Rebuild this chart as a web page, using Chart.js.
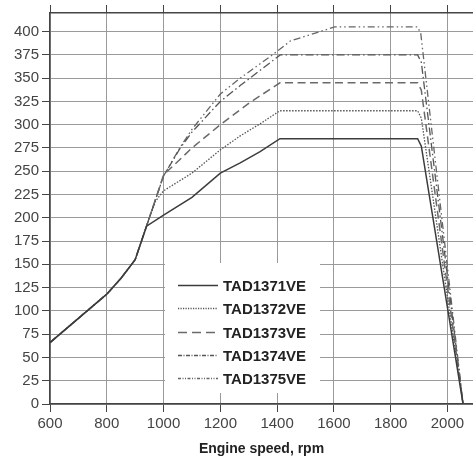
<!DOCTYPE html>
<html>
<head>
<meta charset="utf-8">
<script src="https://cdn.jsdelivr.net/npm/chart.js@4.4.0/dist/chart.umd.min.js"></script>
<style>
  html, body { margin: 0; padding: 0; background: #fff; }
  #wrap { width: 473px; height: 462px; }
</style>
</head>
<body>
<div id="wrap"><canvas id="torqueChart" width="473" height="462"></canvas></div>
<script>
// Curve data (engine speed in rpm, value per model)
const models = ["TAD1371VE", "TAD1372VE", "TAD1373VE", "TAD1374VE", "TAD1375VE"];

const rpm1371 = [600, 800, 850, 900, 940, 1000, 1100, 1200, 1270, 1340, 1410, 1895, 1908, 2055];
const val1371 = [66, 118, 135, 155, 191, 203, 222, 248, 259, 271, 285, 285, 277, 0];

const rpm1372 = [600, 800, 850, 900, 940, 972, 1000, 1100, 1200, 1270, 1340, 1410, 1895, 1908, 2055];
const val1372 = [66, 118, 135, 155, 191, 218, 229, 248, 273, 288, 301, 315, 315, 307, 0];

const rpm1373 = [600, 800, 850, 900, 940, 1000, 1100, 1200, 1300, 1410, 1895, 1908, 2055];
const val1373 = [66, 118, 135, 155, 191, 246, 275, 300, 323, 345, 345, 337, 0];

const rpm1374 = [600, 800, 850, 900, 940, 1000, 1059, 1100, 1200, 1270, 1411, 1895, 1908, 2055];
const val1374 = [66, 118, 135, 155, 191, 245, 275, 292, 325, 342, 375, 375, 367, 0];

const rpm1375 = [600, 800, 850, 900, 940, 1000, 1059, 1100, 1200, 1270, 1388, 1447, 1603, 1895, 1906, 2055];
const val1375 = [66, 118, 135, 155, 191, 245, 276, 295, 333, 350, 376, 390, 405, 405, 398, 0];

const xTitle = "Engine speed, rpm";

const toPoints = (xs, ys) => xs.map((x, i) => ({ x: x, y: ys[i] }));

// line styles (plot / legend sample)
const styles = [
    { color: "#3c3c3c", width: 1.5, dash: [], legendDash: [] },
    { color: "#555", width: 1.3, dash: [1.5, 1.5], legendDash: [1.2, 1.3] },
    { color: "#6a6a6a", width: 1.5, dash: [8, 4.5], legendDash: [9, 5] },
    { color: "#555", width: 1.3, dash: [8, 3, 1.5, 3], legendDash: [4, 1.5, 1, 1.5] },
    { color: "#666", width: 1.3, dash: [7, 3, 1.5, 3, 1.5, 3], legendDash: [3, 1.5, 1, 1.5, 1, 1.5] }
];

const series = [
    toPoints(rpm1371, val1371),
    toPoints(rpm1372, val1372),
    toPoints(rpm1373, val1373),
    toPoints(rpm1374, val1374),
    toPoints(rpm1375, val1375)
];

const FONT = '"Liberation Sans", Arial, Helvetica, sans-serif';

// legend drawn inside the plot on a white box
const legendBox = {
    id: "legendBox",
    beforeDatasetsDraw(chart) {
        const ctx = chart.ctx;
        const ca = chart.chartArea;
        const left = ca.left + 115;
        const top = ca.top + 250;
        ctx.save();
        ctx.fillStyle = "#fff";
        ctx.fillRect(left, top, 155, 130);
        chart.data.datasets.forEach(function(ds, i) {
            const y = Math.round(top + 22 + i * 23.3) + 0.5;
            ctx.setLineDash(styles[i].legendDash);
            ctx.strokeStyle = ds.borderColor;
            ctx.lineWidth = ds.borderWidth;
            ctx.beginPath();
            ctx.moveTo(left + 13, y);
            ctx.lineTo(left + 53, y);
            ctx.stroke();
            ctx.setLineDash([]);
            ctx.fillStyle = "#222";
            ctx.font = "bold 15px " + FONT;
            ctx.textBaseline = "middle";
            ctx.textAlign = "left";
            ctx.fillText(ds.label, left + 58, y + 1);
        });
        ctx.restore();
    }
};

const ctx = document.getElementById("torqueChart").getContext("2d");

new Chart(ctx, {
    type: "line",
    data: {
        datasets: series.map(function(pts, i) {
            return {
                label: models[i],
                data: pts,
                borderColor: styles[i].color,
                borderWidth: styles[i].width,
                borderDash: styles[i].dash,
                pointRadius: 0,
                tension: 0,
                fill: false
            };
        })
    },
    options: {
        responsive: false,
        animation: false,
        layout: { padding: 0 },
        plugins: {
            legend: { display: false },
            tooltip: { enabled: false }
        },
        scales: {
            x: {
                type: "linear",
                position: "bottom",
                min: 600,
                max: 2090,
                afterFit: function(s) { s.height = 58; },
                ticks: {
                    stepSize: 200,
                    includeBounds: false,
                    color: "#444",
                    padding: 3,
                    font: { family: FONT, size: 15 },
                    callback: function(v) { return String(v); }
                },
                grid: { color: "#9a9a9a", lineWidth: 1, tickLength: 8, tickColor: "#444" },
                border: { color: "#444", width: 1.5 },
                title: {
                    display: true,
                    text: xTitle,
                    color: "#222",
                    font: { family: FONT, size: 14, weight: "bold" },
                    padding: { top: 4, bottom: 4 }
                }
            },
            xTop: {
                type: "linear",
                position: "top",
                min: 600,
                max: 2090,
                afterFit: function(s) { s.height = 13; },
                ticks: { stepSize: 200, includeBounds: false, display: false },
                grid: { drawOnChartArea: false, tickLength: 8, tickColor: "#444" },
                border: { color: "#444", width: 1.5 }
            },
            y: {
                min: 0,
                max: 420,
                afterFit: function(s) { s.width = 50; },
                ticks: {
                    stepSize: 25,
                    includeBounds: false,
                    color: "#444",
                    padding: 3,
                    font: { family: FONT, size: 15 },
                    callback: function(v) { return String(v); }
                },
                grid: { color: "#9a9a9a", lineWidth: 1, tickLength: 8, tickColor: "#444" },
                border: { color: "#444", width: 1.5 }
            }
        }
    },
    plugins: [legendBox]
});
</script>
</body>
</html>
